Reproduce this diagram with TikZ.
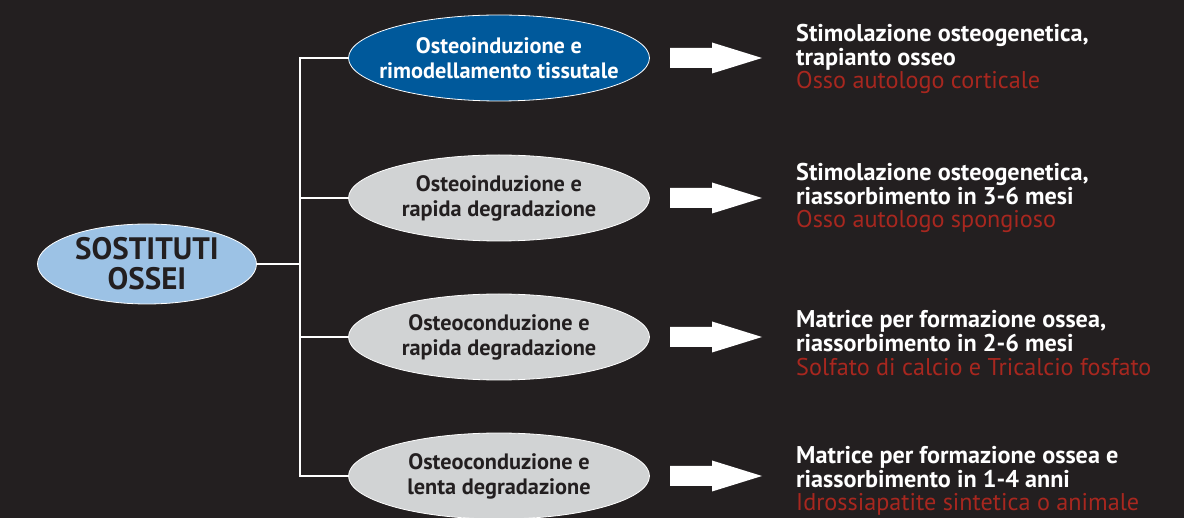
\documentclass[tikz,border=0pt]{standalone}
\usepackage{fontspec}
\setmainfont{PT Sans}
\usetikzlibrary{shapes.geometric,calc}
\definecolor{bgc}{HTML}{231F20}
\definecolor{rootblue}{HTML}{9CC2E5}
\definecolor{darkblue}{HTML}{00599B}
\definecolor{lgray}{HTML}{D1D3D4}
\definecolor{redtxt}{HTML}{A8271F}
\tikzset{
  ell/.style={ellipse, draw=white, line width=0.8pt, inner sep=0pt},
  rootnode/.style={ell, fill=rootblue, minimum width=219pt, minimum height=80pt},
  blueell/.style={ell, fill=darkblue, minimum width=301pt, minimum height=86pt},
  grayell/.style={ell, fill=lgray, minimum width=301pt, minimum height=86pt},
  elltext/.style={align=center, inner sep=0pt, font=\bfseries\fontsize{22.3}{25}\selectfont},
  roottext/.style={elltext, text=bgc, font=\bfseries\fontsize{31}{30}\selectfont},
  conn/.style={draw=white, line width=2pt},
  desc/.style={anchor=west, align=left, inner sep=0pt, text=white, font=\fontsize{24.2}{23.7}\selectfont},
  blockarrow/.style={fill=white}
}
\newcommand{\barrow}[1]{\fill[blockarrow] ($(#1)+(-46,-10)$) -- ++(42,0) -- ++(0,-5.5) -- ++(50,15.5) -- ++(-50,15.5) -- ++(0,-5.5) -- ++(-42,0) -- cycle;}
\begin{document}
\begin{tikzpicture}[x=1pt,y=-1pt]
\fill[bgc] (0,0) rectangle (1184,518);
\useasboundingbox (0,0) rectangle (1184,518);
\node[rootnode] (root) at (147,264) {};
\node[roottext] (roott) at (root.center) {SOSTITUTI\\OSSEI};
\node[blueell] (a) at (499,58) {};
\node[elltext, text=white] (at) at (a.center) {Osteoinduzione e\\rimodellamento tissutale};
\node[grayell] (b) at (499,198) {};
\node[elltext, text=bgc] (bt) at (b.center) {Osteoinduzione e\\rapida degradazione};
\node[grayell] (c) at (499,337) {};
\node[elltext, text=bgc] (ct) at (c.center) {Osteoconduzione e\\rapida degradazione};
\node[grayell] (d) at (499,476) {};
\node[elltext, text=bgc] (dt) at (d.center) {Osteoconduzione e\\lenta degradazione};
\coordinate (j) at (300,264);
\draw[conn] (root.east) -- (j);
\draw[conn] (a.west) -| (j);
\draw[conn] (b.west) -| (j);
\draw[conn] (c.west) -| (j);
\draw[conn] (d.west) -| (j);
\coordinate (pa) at (716,58);
\coordinate (pb) at (716,198);
\coordinate (pc) at (716,337);
\coordinate (pd) at (716,476);
\barrow{pa}\barrow{pb}\barrow{pc}\barrow{pd}
\node[desc] (ta) at (796,59) {\textbf{Stimolazione osteogenetica,}\\\textbf{trapianto osseo}\\\textcolor{redtxt}{Osso autologo corticale}};
\node[desc] (tb) at (796,198) {\textbf{Stimolazione osteogenetica,}\\\textbf{riassorbimento in 3-6 mesi}\\\textcolor{redtxt}{Osso autologo spongioso}};
\node[desc] (tc) at (796,343) {\textbf{Matrice per formazione ossea,}\\\textbf{riassorbimento in 2-6 mesi}\\\textcolor{redtxt}{Solfato di calcio e Tricalcio fosfato}};
\node[desc] (td) at (796,481) {\textbf{Matrice per formazione ossea e}\\\textbf{riassorbimento in 1-4 anni}\\\textcolor{redtxt}{Idrossiapatite sintetica o animale}};
\end{tikzpicture}
\end{document}
